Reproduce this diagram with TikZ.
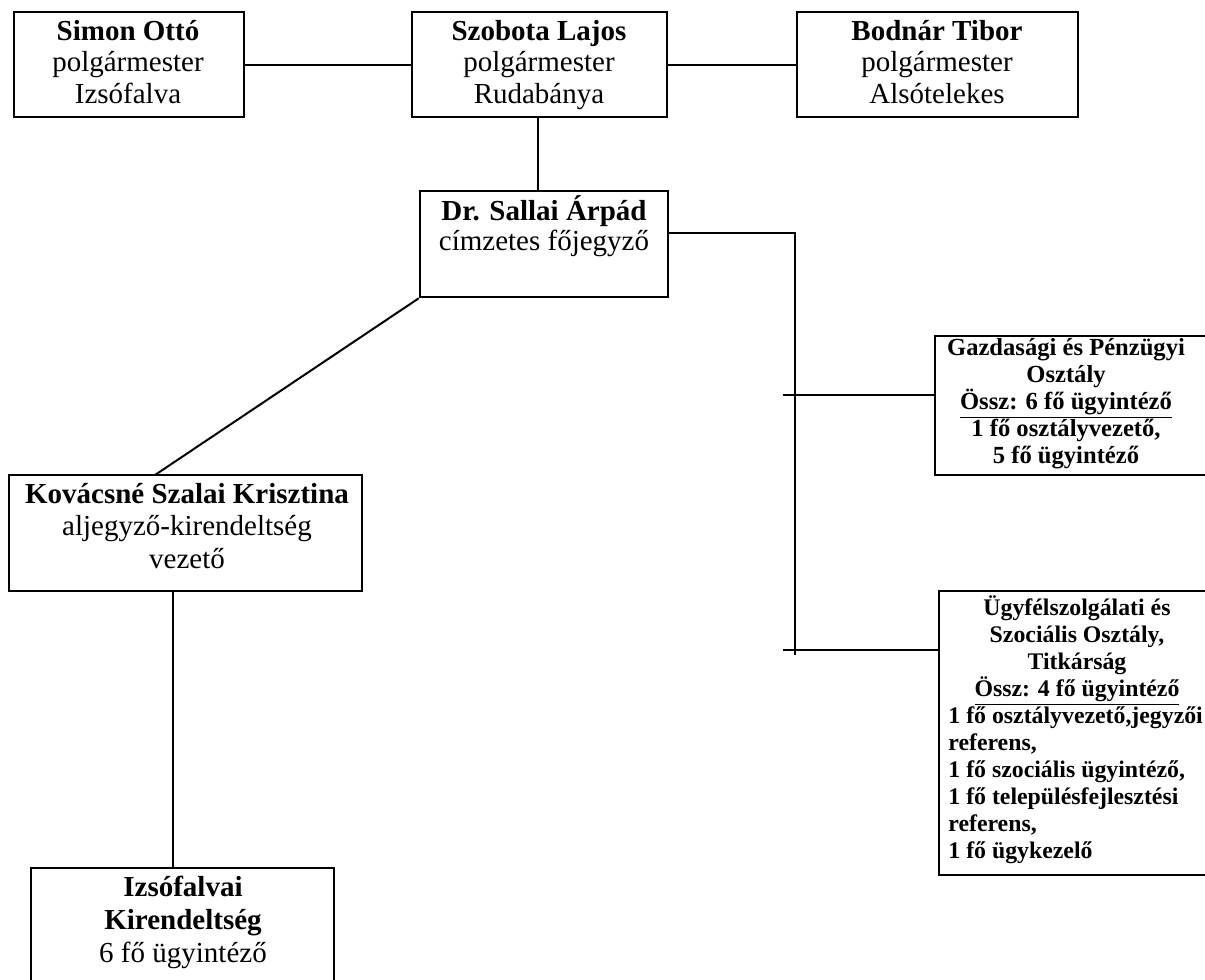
\documentclass[tikz,border=0pt]{standalone}
\usepackage{fontspec}
\setmainfont{Liberation Serif}
\usetikzlibrary{fit}
\newcommand\firstln{\rule{0pt}{15pt}}
\newlength\ulw
\newcommand\ulx[1]{\settowidth{\ulw}{#1}\rlap{\smash{\rule[-4.4pt]{\ulw}{0.85pt}}}#1}
\tikzset{
  box/.style={draw, line width=1.3pt, inner sep=0pt},
  conn/.style={line width=1pt},
  big/.style={font=\fontsize{14.5pt}{#1}\selectfont, align=center, inner sep=0pt, anchor=north},
  small/.style={font=\fontsize{#1}{13.5pt}\selectfont\bfseries, inner sep=0pt},
}
\begin{document}
\begin{tikzpicture}[x=0.5pt,y=-0.5pt]
\useasboundingbox (0,0) rectangle (1205,980);
\clip (0,0) rectangle (1205,980);
% boxes
\node[box, fit={(14,12)(244,117)}] (simon) {};
\node[box, fit={(412,12)(667,117)}] (szobota) {};
\node[box, fit={(797,12)(1078,117)}] (bodnar) {};
\node[box, fit={(420,191)(668,297)}] (sallai) {};
\node[box, fit={(935,336)(1222,475)}] (gazd) {};
\node[box, fit={(939,591)(1222,875)}] (ugyf) {};
\node[box, fit={(9,475)(362,591)}] (kovacs) {};
\node[box, fit={(31,868)(334,1000)}] (izso) {};
% texts
\node[big=15.75pt] (simont) at (128,10) {\firstln\textbf{Simon Ottó}\\polgármester\\Izsófalva};
\node[big=15.75pt] (szobotat) at (539,10) {\firstln\textbf{Szobota Lajos}\\polgármester\\Rudabánya};
\node[big=15.75pt] (bodnart) at (937,10) {\firstln\textbf{Bodnár Tibor}\\polgármester\\Alsótelekes};
\node[big=15pt] (sallait) at (544,190) {\firstln\textbf{Dr. Sallai Árpád}\\címzetes főjegyző};
\node[big=16.25pt] (kovacst) at (187,473) {\firstln\textbf{Kovácsné Szalai Krisztina}\\aljegyző-kirendeltség\\vezető};
\node[big=16.5pt] (izsot) at (183,866) {\firstln\textbf{Izsófalvai}\\\textbf{Kirendeltség}\\6 fő ügyintéző};
\node[small=12.3pt, align=center, anchor=north] (gazdt) at (1066,325) {\firstln Gazdasági és Pénzügyi\\Osztály\\\ulx{Össz: 6 fő ügyintéző}\\1 fő osztályvezető,\\5 fő ügyintéző};
\node[small=11.9pt, align=center, anchor=north] (ugyft) at (1077,585) {\firstln Ügyfélszolgálati és\\Szociális Osztály,\\Titkárság\\\ulx{Össz: 4 fő ügyintéző}};
\node[small=11.9pt, align=left, anchor=north west] (ugyfl) at (948,693) {\firstln 1 fő osztályvezető,jegyzői\\referens,\\1 fő szociális ügyintéző,\\1 fő településfejlesztési\\referens,\\1 fő ügykezelő};
% connectors
\draw[conn] (simon.east) -- (szobota.west);
\draw[conn] (szobota.east) -- (bodnar.west);
\coordinate (v1) at (538,117);
\draw[conn] (szobota.south -| v1) -- (sallai.north -| v1);
\coordinate (tr1) at (795,233);
\coordinate (tr2) at (795,655);
\draw[conn] (sallai.east |- tr1) -- (tr1) -- (tr2);
\coordinate (g0) at (783,395);
\draw[conn] (g0) -- (gazd.west |- g0);
\coordinate (u0) at (783,650);
\draw[conn] (u0) -- (ugyf.west |- u0);
\coordinate (kd) at (155,475);
\draw[conn] (sallai.south west) -- (kd);
\coordinate (kv) at (173,591);
\draw[conn] (kovacs.south -| kv) -- (izso.north -| kv);
\end{tikzpicture}
\end{document}
